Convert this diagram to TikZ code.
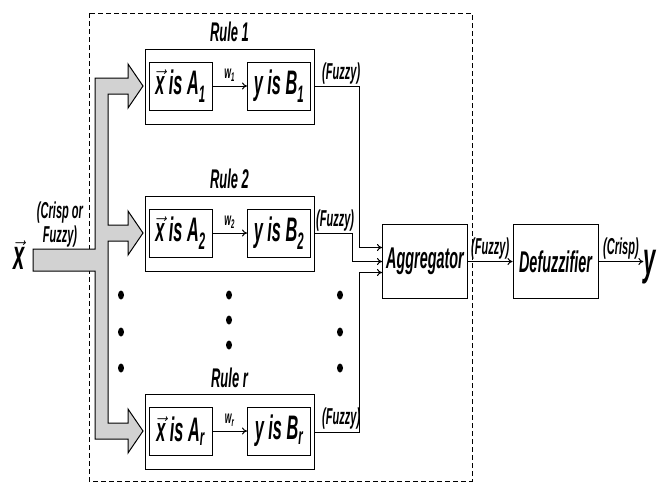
\documentclass[tikz,border=0pt]{standalone}
\usepackage{amsmath}
\usepackage{fontspec}
\usepackage{xcolor}
\usepackage{tikz}
\usetikzlibrary{arrows.meta,positioning}
\newfontfamily\diagfont{Liberation Sans}[FakeStretch=0.48]
\newcommand{\dfont}[1]{\diagfont\bfseries\itshape\fontsize{#1}{#1}\selectfont}
\newcommand{\vx}{$\vec{\text{x}}$}

\begin{document}
\begin{tikzpicture}[
  x=1pt, y=-1pt, line width=1pt,
  rulebox/.style={rectangle, draw, minimum width=169pt, minimum height=75pt},
  part/.style={rectangle, draw, minimum width=63pt, minimum height=48pt,
               inner sep=1pt, font=\dfont{34}},
  block/.style={rectangle, draw, minimum width=85pt, minimum height=74pt,
                inner sep=1pt, font=\dfont{30}},
  rulelab/.style={font=\dfont{27}, inner sep=1pt},
  tag/.style={font=\dfont{23}, inner sep=2pt},
  wlab/.style={font=\dfont{18}, inner sep=1pt},
  arr/.style={-{To[length=5pt, width=7pt]}},
  fat/.style={draw, fill=gray!35, line join=miter},
  frame/.style={draw, line width=0.8pt, dash pattern=on 5pt off 3pt},
]
  \useasboundingbox (0,0) rectangle (669,488);

  % Rule base
  \draw[frame] (89,13) rectangle (472,481);

  % Rule 1
  \node[rulebox] (r1) at (229.5, 86.5) {};
  \node[rulelab, above=5pt of r1] (t1) {Rule 1};
  \node[part] (a1) at (180.5, 86) {\vx{} is A\textsubscript{1}};
  \node[part] (b1) at (279, 86) {y is B\textsubscript{1}};
  \draw[arr] (a1) -- node[wlab, above=3pt] {w\textsubscript{1}} (b1);

  % Rule 2
  \node[rulebox] (r2) at (229.5, 233.5) {};
  \node[rulelab, above=5pt of r2] (t2) {Rule 2};
  \node[part] (a2) at (180.5, 233) {\vx{} is A\textsubscript{2}};
  \node[part] (b2) at (279, 233) {y is B\textsubscript{2}};
  \draw[arr] (a2) -- node[wlab, above=3pt] {w\textsubscript{2}} (b2);

  % Rule r
  \node[rulebox] (r3) at (229.5, 432) {};
  \node[rulelab, above=5pt of r3] (t3) {Rule r};
  \node[part] (a3) at (180.5, 431) {\vx{} is A\textsubscript{r}};
  \node[part] (b3) at (279, 431) {y is B\textsubscript{r}};
  \draw[arr] (a3) -- node[wlab, above=3pt] {w\textsubscript{r}} (b3);

  % Dots
  \fill (121,295) ellipse (3 and 4.5) (121,332) ellipse (3 and 4.5)
        (121,368) ellipse (3 and 4.5);
  \fill (229,295) ellipse (3 and 4.5) (229,320) ellipse (3 and 4.5)
        (229,345) ellipse (3 and 4.5);
  \fill (340,295) ellipse (3 and 4.5) (340,332) ellipse (3 and 4.5)
        (340,368) ellipse (3 and 4.5);

  % Input
  \node[font=\dfont{42}, inner sep=0pt] (xin) at (19, 255) {\vx};
  \node[tag, align=center] (inlab) at (60, 225) {(Crisp or\\[1pt]Fuzzy)};
  \draw[fat] (33,249) -- (95,249) -- (95,78) -- (128,78) -- (128,64)
    -- (143,86) -- (128,108) -- (128,94) -- (108,94) -- (108,225)
    -- (128,225) -- (128,211) -- (143,233) -- (128,255) -- (128,241)
    -- (108,241) -- (108,423) -- (128,423) -- (128,409) -- (143,431)
    -- (128,453) -- (128,439) -- (95,439) -- (95,271) -- (33,271) -- cycle;

  % Aggregation and output
  \node[block] (agg) at (425, 261.5) {Aggregator};
  \node[block] (defuz) at (555.5, 261.5) {Defuzzifier};
  \node[font=\dfont{46}, inner sep=0pt] (yout) at (650, 267) {y};

  \coordinate (c1) at (359, 86.5);
  \coordinate (c2) at (352, 233.5);
  \coordinate (c3) at (359, 432);
  \draw[arr] (r1.east) -- node[tag, above, pos=0.6] {(Fuzzy)} (c1)
    |- ([yshift=14pt]agg.west);
  \draw[arr] (r2.east) -- node[tag, above, pos=0.55] {(Fuzzy)} (c2)
    |- (agg.west);
  \draw[arr] (r3.east) -- node[tag, above, pos=0.6] {(Fuzzy)} (c3)
    |- ([yshift=-11pt]agg.west);
  \draw[arr] (agg) -- node[tag, above] {(Fuzzy)} (defuz);
  \draw[arr] (defuz.east) -- node[tag, above] {(Crisp)} (defuz.east -| yout.west);
\end{tikzpicture}
\end{document}
